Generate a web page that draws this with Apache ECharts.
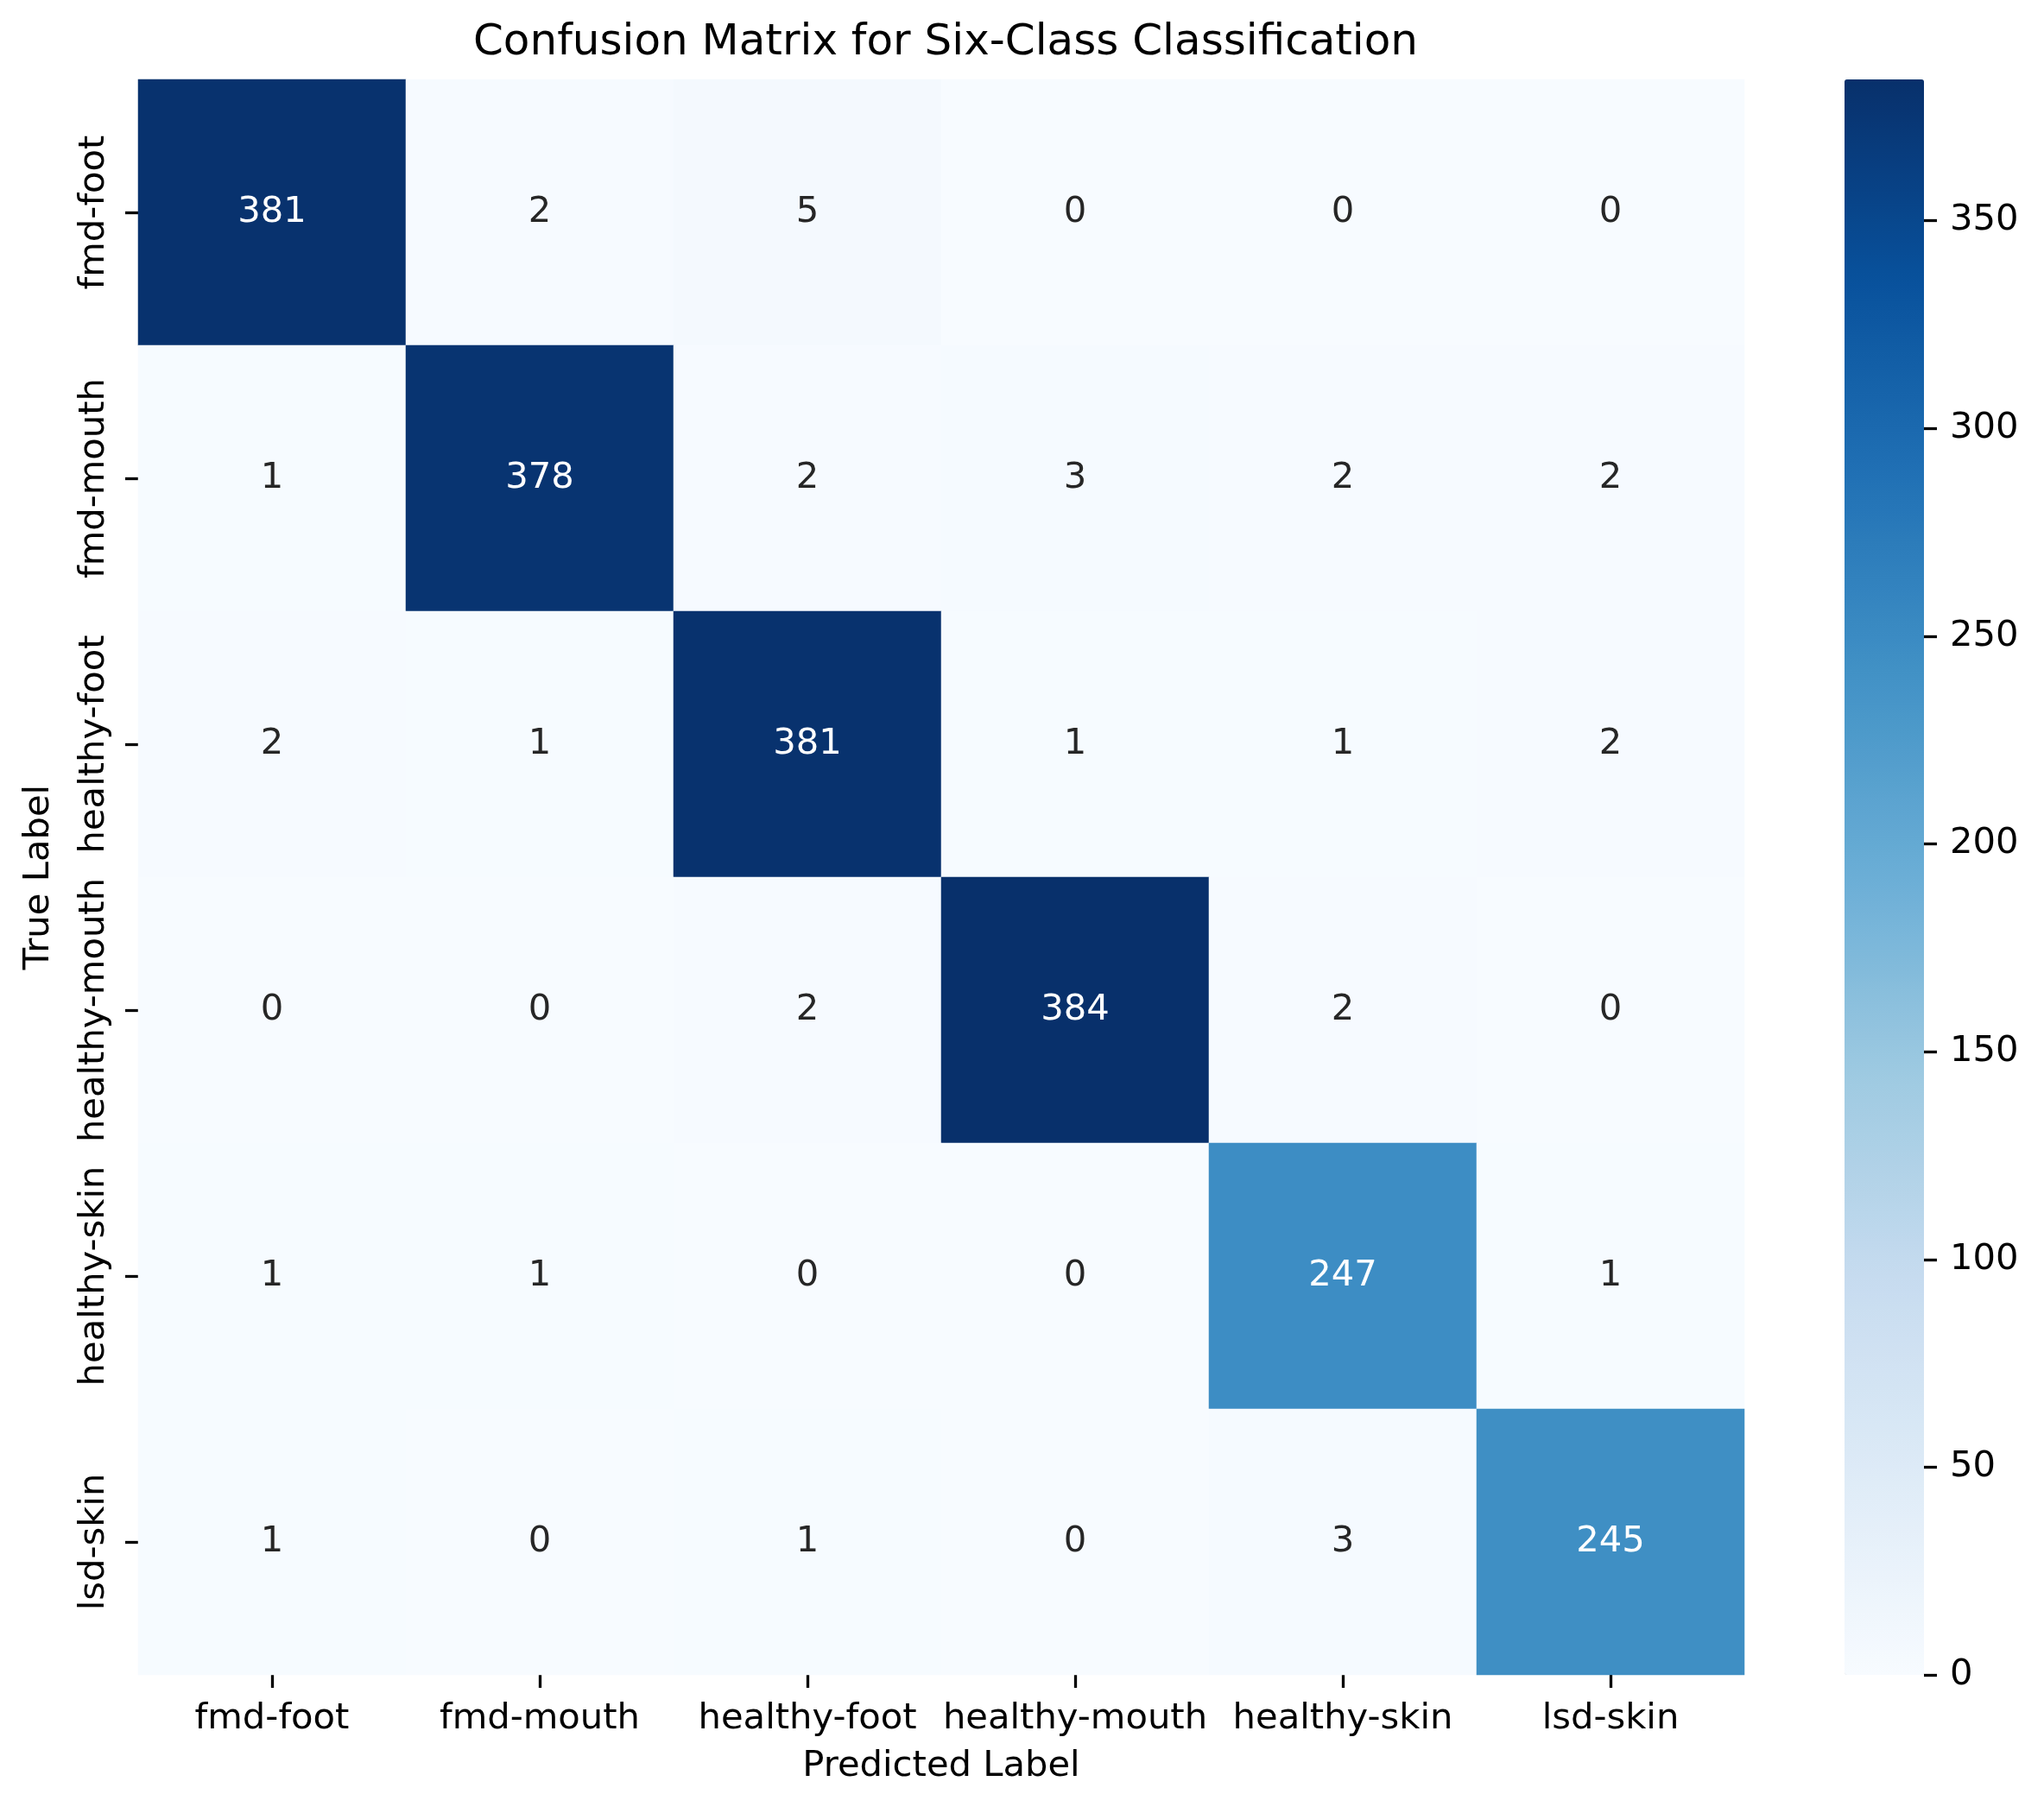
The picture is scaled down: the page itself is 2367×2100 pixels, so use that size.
<!DOCTYPE html>
<html>
<head>
<meta charset="utf-8">
<script src="https://cdn.jsdelivr.net/npm/echarts@6/dist/echarts.min.js"></script>
<style>html,body{margin:0;padding:0;background:#fff}#c{width:2367px;height:2100px}</style>
</head>
<body>
<div id="c"></div>
<script>
const classes = ['fmd-foot', 'fmd-mouth', 'healthy-foot', 'healthy-mouth', 'healthy-skin', 'lsd-skin'];
const row_fmd_foot = [381, 2, 5, 0, 0, 0];
const row_fmd_mouth = [1, 378, 2, 3, 2, 2];
const row_healthy_foot = [2, 1, 381, 1, 1, 2];
const row_healthy_mouth = [0, 0, 2, 384, 2, 0];
const row_healthy_skin = [1, 1, 0, 0, 247, 1];
const row_lsd_skin = [1, 0, 1, 0, 3, 245];
const colorbarTicks = [0, 50, 100, 150, 200, 250, 300, 350];
const vMin = 0, vMax = 384;

const rows = [row_fmd_foot, row_fmd_mouth, row_healthy_foot, row_healthy_mouth, row_healthy_skin, row_lsd_skin];
const blues = ['#f7fbff', '#deebf7', '#c6dbef', '#9ecae1', '#6baed6', '#4292c6', '#2171b5', '#08519c', '#08306b'];
const FS = 41.7;
const FONT = 'DejaVu Sans';

const data = [];
rows.forEach((r, yi) => r.forEach((v, xi) => {
  const dark = (v - vMin) / (vMax - vMin) > 0.48;
  data.push({ value: [xi, yi, v], label: { color: dark ? '#ffffff' : '#262626' } });
}));

const chart = echarts.init(document.getElementById('c'), null, { renderer: 'canvas' });
chart.setOption({
  backgroundColor: '#ffffff',
  animation: false,
  title: {
    text: 'Confusion Matrix for Six-Class Classification',
    left: 1090, top: 20, textAlign: 'center',
    textStyle: { fontFamily: FONT, fontSize: 50, fontWeight: 'normal', color: '#000' }
  },
  grid: [
    { left: 160, top: 92, width: 1860, height: 1848 },
    { left: 2136, top: 92, width: 92, height: 1848 }
  ],
  xAxis: [{
    type: 'category', data: classes, gridIndex: 0,
    name: 'Predicted Label', nameLocation: 'middle', nameGap: 85,
    nameTextStyle: { fontFamily: FONT, fontSize: FS, color: '#000' },
    axisLine: { show: false },
    axisTick: { show: true, alignWithLabel: true, length: 15, lineStyle: { width: 3.3, color: '#000' } },
    axisLabel: { fontFamily: FONT, fontSize: FS, color: '#000', margin: 30, interval: 0 },
    splitLine: { show: false }
  }, {
    type: 'category', data: ['c'], gridIndex: 1, show: false
  }],
  yAxis: [{
    type: 'category', data: classes, gridIndex: 0, inverse: true,
    name: 'True Label', nameLocation: 'middle', nameGap: 94, nameRotate: 90,
    nameTextStyle: { fontFamily: FONT, fontSize: FS, color: '#000' },
    axisLine: { show: false },
    axisTick: { show: true, alignWithLabel: true, length: 15, lineStyle: { width: 3.3, color: '#000' } },
    axisLabel: { fontFamily: FONT, fontSize: FS, color: '#000', margin: 30, rotate: 90, interval: 0 },
    splitLine: { show: false }
  }, {
    type: 'value', gridIndex: 1, min: vMin, max: vMax, position: 'right',
    axisLine: { show: false },
    axisTick: { show: true, length: 15, customValues: colorbarTicks, lineStyle: { width: 3.3, color: '#000' } },
    axisLabel: { fontFamily: FONT, fontSize: FS, color: '#000', margin: 30, customValues: colorbarTicks },
    splitLine: { show: false }
  }],
  visualMap: {
    type: 'continuous', min: vMin, max: vMax, seriesIndex: 0,
    calculable: false, show: true, orient: 'vertical',
    left: 2136, top: 92, itemWidth: 92, itemHeight: 1848, padding: 0,
    text: null, showLabel: false,
    inRange: { color: blues }
  },
  series: [{
    type: 'heatmap', xAxisIndex: 0, yAxisIndex: 0, data: data,
    label: { show: true, fontFamily: FONT, fontSize: FS },
    itemStyle: { borderWidth: 0 },
    emphasis: { disabled: true }
  }, {
    type: 'scatter', xAxisIndex: 1, yAxisIndex: 1, data: [], silent: true
  }]
});
</script>
</body>
</html>
